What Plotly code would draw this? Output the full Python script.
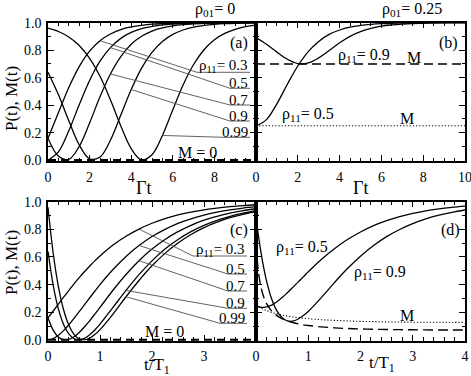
import plotly.graph_objects as go

W, H = 471, 376
FONT = "'Liberation Serif', 'Times New Roman', Times, serif"

# ---------------- data ----------------
# panel (a): rho01 = 0, time in units of 1/Gamma
ta = [0, 0.5, 1, 1.5, 2, 2.5, 3, 3.5, 4, 4.5, 5, 5.5, 6, 6.5, 7, 7.5, 8, 8.5, 9, 9.5, 10]
pa_03 = [0.160, 0.345, 0.529, 0.681, 0.793, 0.869, 0.918, 0.950, 0.969, 0.981, 0.989,
         0.993, 0.996, 0.997, 0.998, 0.999, 0.999, 1.0, 1.0, 1.0, 1.0]
pa_05 = [0.0, 0.060, 0.214, 0.403, 0.580, 0.720, 0.819, 0.886, 0.929, 0.957, 0.973,
         0.984, 0.990, 0.994, 0.996, 0.998, 0.999, 0.999, 1.0, 1.0, 1.0]
pa_07 = [0.160, 0.030, 0.006, 0.100, 0.271, 0.461, 0.627, 0.754, 0.843, 0.901, 0.939,
         0.962, 0.977, 0.986, 0.991, 0.995, 0.997, 0.998, 0.999, 0.999, 1.0]
pa_09 = [0.640, 0.477, 0.287, 0.112, 0.010, 0.023, 0.145, 0.328, 0.514, 0.670, 0.784,
         0.863, 0.915, 0.947, 0.968, 0.980, 0.988, 0.993, 0.996, 0.997, 0.998]
pa_099 = [0.960, 0.936, 0.896, 0.834, 0.741, 0.610, 0.439, 0.249, 0.084, 0.002, 0.040,
          0.180, 0.367, 0.549, 0.696, 0.803, 0.876, 0.922, 0.952, 0.971, 0.982]
ma = 0.0

# panel (b): rho01 = 0.25
pb_09 = [0.892, 0.843, 0.786, 0.734, 0.703, 0.707, 0.744, 0.798, 0.854, 0.901, 0.935,
         0.959, 0.975, 0.984, 0.990, 0.994, 0.996, 0.998, 0.999, 0.999, 0.999]
pb_05 = [0.250, 0.295, 0.410, 0.552, 0.685, 0.790, 0.864, 0.915, 0.947, 0.968, 0.980,
         0.988, 0.993, 0.996, 0.997, 0.998, 0.999, 0.999, 1.0, 1.0, 1.0]
mb_09 = 0.70
mb_05 = 0.25

# panel (c): rho01 = 0, time in units of T1
tc = [0, 0.1, 0.2, 0.3, 0.4, 0.5, 0.6, 0.7, 0.8, 0.9, 1.0, 1.25, 1.5, 1.75, 2.0, 2.25,
      2.5, 2.75, 3.0, 3.25, 3.5, 3.75, 4.0]
pc_03 = [0.160, 0.209, 0.259, 0.309, 0.357, 0.405, 0.450, 0.493, 0.533, 0.572, 0.607,
         0.686, 0.750, 0.802, 0.844, 0.878, 0.904, 0.925, 0.941, 0.954, 0.964, 0.972, 0.978]
pc_05 = [0.0, 0.009, 0.033, 0.067, 0.109, 0.155, 0.204, 0.253, 0.303, 0.352, 0.400,
         0.509, 0.604, 0.683, 0.748, 0.800, 0.843, 0.876, 0.903, 0.924, 0.941, 0.954, 0.964]
pc_07 = [0.160, 0.071, 0.021, 0.001, 0.004, 0.023, 0.054, 0.093, 0.138, 0.186, 0.235,
         0.359, 0.473, 0.573, 0.657, 0.727, 0.783, 0.829, 0.866, 0.894, 0.917, 0.935, 0.949]
pc_09 = [0.640, 0.395, 0.224, 0.111, 0.043, 0.008, 0.000, 0.011, 0.037, 0.072, 0.114,
         0.235, 0.358, 0.472, 0.572, 0.657, 0.726, 0.783, 0.829, 0.865, 0.894, 0.917, 0.935]
pc_099 = [0.960, 0.627, 0.386, 0.218, 0.107, 0.040, 0.008, 0.000, 0.012, 0.038, 0.074,
          0.187, 0.312, 0.430, 0.536, 0.626, 0.701, 0.763, 0.813, 0.852, 0.884, 0.909, 0.929]
mc = 0.0

# panel (d): rho01 = 0.25, time in units of T1
td = [0, 0.05, 0.1, 0.15, 0.2, 0.3, 0.4, 0.5, 0.6, 0.7, 0.8, 0.9, 1.0, 1.25, 1.5, 1.75,
      2.0, 2.25, 2.5, 2.75, 3.0, 3.25, 3.5, 3.75, 4.0]
pd_05 = [0.250, 0.240, 0.235, 0.235, 0.238, 0.252, 0.276, 0.306, 0.341, 0.378, 0.416,
         0.454, 0.492, 0.581, 0.659, 0.726, 0.781, 0.827, 0.863, 0.892, 0.915, 0.934,
         0.948, 0.959, 0.968]
pd_09 = [0.890, 0.745, 0.622, 0.517, 0.429, 0.296, 0.210, 0.160, 0.137, 0.135, 0.149,
         0.174, 0.206, 0.306, 0.414, 0.516, 0.606, 0.683, 0.747, 0.799, 0.841, 0.875,
         0.902, 0.923, 0.940]
md_05 = [0.250, 0.238, 0.228, 0.220, 0.212, 0.199, 0.188, 0.179, 0.172, 0.166, 0.161,
         0.157, 0.153, 0.146, 0.141, 0.137, 0.134, 0.132, 0.130, 0.129, 0.128, 0.128,
         0.127, 0.127, 0.126]
md_09 = [0.694, 0.482, 0.374, 0.308, 0.264, 0.208, 0.175, 0.153, 0.137, 0.126, 0.117,
         0.109, 0.104, 0.094, 0.087, 0.082, 0.079, 0.077, 0.075, 0.074, 0.073, 0.072,
         0.071, 0.071, 0.071]

rho_labels = ["0.3", "0.5", "0.7", "0.9", "0.99"]
y_ticks = [0, 0.2, 0.4, 0.6, 0.8, 1.0]
y_ticktext = ["0.0", "0.2", "0.4", "0.6", "0.8", "1.0"]

# ---------------- layout geometry (pixels) ----------------
XL, XM, XR = 48, 256, 465
YT_TOP, YT_BOT = 22.7, 161
YB_TOP, YB_BOT = 201.7, 340.7
YR = [-0.006, 1.0]


def fx(p):
    return p / W


def fy(p):
    return 1 - p / H


fig = go.Figure()


def line(x, y, xa, ya, dash="solid", width=1.3):
    fig.add_trace(go.Scatter(
        x=x, y=y, xaxis=xa, yaxis=ya, mode="lines",
        line=dict(color="black", width=width, dash=dash, shape="spline", smoothing=1.0),
        showlegend=False, hoverinfo="skip"))


# panel a
for s in [pa_03, pa_05, pa_07, pa_09, pa_099]:
    line(ta, s, "x", "y")
line([ta[0], ta[-1]], [ma, ma], "x", "y", dash="8px,5px", width=2.2)
# panel b
line(ta, pb_09, "x2", "y2")
line(ta, pb_05, "x2", "y2")
line([ta[0], ta[-1]], [mb_09, mb_09], "x2", "y2", dash="9px,5px", width=1.6)
line([ta[0], ta[-1]], [mb_05, mb_05], "x2", "y2", dash="1.2px,2px", width=1.1)
# panel c
for s in [pc_03, pc_05, pc_07, pc_09, pc_099]:
    line(tc, s, "x3", "y3")
line([tc[0], tc[-1]], [mc, mc], "x3", "y3", dash="8px,5px", width=2.2)
# panel d
line(td, pd_05, "x4", "y4")
line(td, pd_09, "x4", "y4")
line(td, md_09, "x4", "y4", dash="10px,5px", width=1.4)
line(td, md_05, "x4", "y4", dash="1.2px,2px", width=1.1)

axis_common = dict(
    showline=True, linecolor="black", linewidth=1.5, mirror="ticks",
    ticks="inside", ticklen=6, tickwidth=1.1, tickcolor="black",
    showgrid=False, zeroline=False, automargin=False,
    tickfont=dict(family=FONT, size=14, color="black"),
)


def xaxis(dom, rng, tickvals, ticktext, minor_dt, anchor):
    return dict(axis_common, domain=[fx(dom[0]), fx(dom[1])], range=rng, anchor=anchor,
                tickmode="array", tickvals=tickvals, ticktext=ticktext,
                minor=dict(ticks="inside", ticklen=3.5, tickwidth=1, tickcolor="black",
                           dtick=minor_dt, tick0=0, showgrid=False),
                ticklabelstandoff=2, ticklabeloverflow="allow")


def yaxis(dom, anchor, labels):
    return dict(axis_common, domain=[fy(dom[1]), fy(dom[0])], range=YR, anchor=anchor,
                tickmode="array", tickvals=y_ticks, ticktext=y_ticktext,
                showticklabels=labels,
                minor=dict(ticks="inside", ticklen=3.5, tickwidth=1, tickcolor="black",
                           dtick=0.1, tick0=0, showgrid=False),
                ticklabelstandoff=2)


fig.update_layout(
    template="none",
    width=W, height=H, margin=dict(l=0, r=0, t=0, b=0, autoexpand=False),
    paper_bgcolor="white", plot_bgcolor="white", showlegend=False,
    font=dict(family=FONT, size=14, color="black"),
    xaxis=xaxis((XL, XM), [0, 10], [0, 2, 4, 6, 8, 10], ["0", "2", "4", "6", "8", ""], 0.5, "y"),
    xaxis2=xaxis((XM, XR), [0, 10], [0, 2, 4, 6, 8, 10], ["0", "2", "4", "6", "8", "10"], 0.5, "y2"),
    xaxis3=xaxis((XL, XM), [0, 4], [0, 1, 2, 3, 4], ["0", "1", "2", "3", ""], 0.2, "y3"),
    xaxis4=xaxis((XM, XR), [0, 4], [0, 1, 2, 3, 4], ["0", "1", "2", "3", "4"], 0.2, "y4"),
    yaxis=yaxis((YT_TOP, YT_BOT), "x", True),
    yaxis2=yaxis((YT_TOP, YT_BOT), "x2", False),
    yaxis3=yaxis((YB_TOP, YB_BOT), "x3", True),
    yaxis4=yaxis((YB_TOP, YB_BOT), "x4", False),
)

ann = []


def text(t, x, y, size=15, xanchor="center", yanchor="middle", angle=0):
    ann.append(dict(text=t, x=fx(x), y=fy(y), xref="paper", yref="paper",
                    xanchor=xanchor, yanchor=yanchor, showarrow=False, textangle=angle,
                    font=dict(family=FONT, size=size, color="black")))


R = "\u03c1"
text(R + "<sub>01</sub>= 0", 215, 10, size=16)
text(R + "<sub>01</sub>= 0.25", 412, 10, size=16)
text("(a)", 239, 43, size=16)
text("(b)", 448, 43, size=16)
text("(c)", 239, 230, size=16)
text("(d)", 450, 230, size=16)
text("P(t), M(t)", 11, 99, size=17, angle=-90)
text("P(t), M(t)", 11, 263, size=17, angle=-90)
text("\u0393t", 143, 188, size=18)
text("\u0393t", 360, 188, size=18)
text("t/T<sub>1</sub>", 157, 366, size=17)
text("t/T<sub>1</sub>", 382, 364, size=17)
text("M = 0", 197, 152, size=16)
text("M = 0", 164, 331, size=16)
text(R + "<sub>11</sub>= 0.9", 364, 55, size=16)
text("M", 414, 57, size=16)
text(R + "<sub>11</sub>= 0.5", 308, 114, size=16)
text("M", 407, 118, size=16)
text(R + "<sub>11</sub>= 0.5", 302, 247, size=16)
text(R + "<sub>11</sub>= 0.9", 380, 272, size=16)
text("M", 407, 315, size=16)

# rho11 labels with underlines and leader lines
a_text_y = [66, 83, 99.5, 116, 132]
a_line_y = [72.3, 88.3, 105, 121, 137.3]
a_line_x0 = [197, 230, 230, 230, 223]
a_idx = [5, 6, 6, 8, 11]
c_text_y = [250, 269, 285.5, 302.5, 318]
c_line_y = [256, 274, 291, 308.3, 323.3]
c_line_x0 = [193, 228, 228, 228, 220]
c_idx = [13, 13, 13, 12, 12]

shapes = []
GREY = "#505050"


def px_to_data(xp, yp, xdom, xr, ydom):
    xd = xr[0] + (xp - xdom[0]) / (xdom[1] - xdom[0]) * (xr[1] - xr[0])
    yd = YR[0] + (ydom[1] - yp) / (ydom[1] - ydom[0]) * (YR[1] - YR[0])
    return xd, yd


for k, lab in enumerate(rho_labels):
    t = (R + "<sub>11</sub>= " + lab) if k == 0 else lab
    # panel a
    text(t, 250, a_text_y[k], size=15, xanchor="right")
    shapes.append(dict(type="line", xref="paper", yref="paper",
                       x0=fx(a_line_x0[k]), x1=fx(250), y0=fy(a_line_y[k]), y1=fy(a_line_y[k]),
                       line=dict(color=GREY, width=0.9)))
    series_a = [pa_03, pa_05, pa_07, pa_09, pa_099][k]
    xd, yd = px_to_data(a_line_x0[k], a_line_y[k], (XL, XM), [0, 10], (YT_TOP, YT_BOT))
    shapes.append(dict(type="line", xref="x", yref="y",
                       x0=ta[a_idx[k]], y0=series_a[a_idx[k]], x1=xd, y1=yd,
                       line=dict(color=GREY, width=0.9)))
    # panel c
    text(t, 247, c_text_y[k], size=15, xanchor="right")
    shapes.append(dict(type="line", xref="paper", yref="paper",
                       x0=fx(c_line_x0[k]), x1=fx(247), y0=fy(c_line_y[k]), y1=fy(c_line_y[k]),
                       line=dict(color=GREY, width=0.9)))
    series_c = [pc_03, pc_05, pc_07, pc_09, pc_099][k]
    xd, yd = px_to_data(c_line_x0[k], c_line_y[k], (XL, XM), [0, 4], (YB_TOP, YB_BOT))
    shapes.append(dict(type="line", xref="x3", yref="y3",
                       x0=tc[c_idx[k]], y0=series_c[c_idx[k]], x1=xd, y1=yd,
                       line=dict(color=GREY, width=0.9)))

fig.update_layout(annotations=ann, shapes=shapes)
fig.write_html("out.html", config={"displayModeBar": False},
               post_script="document.body.style.margin='0';document.body.style.overflow='hidden';")
